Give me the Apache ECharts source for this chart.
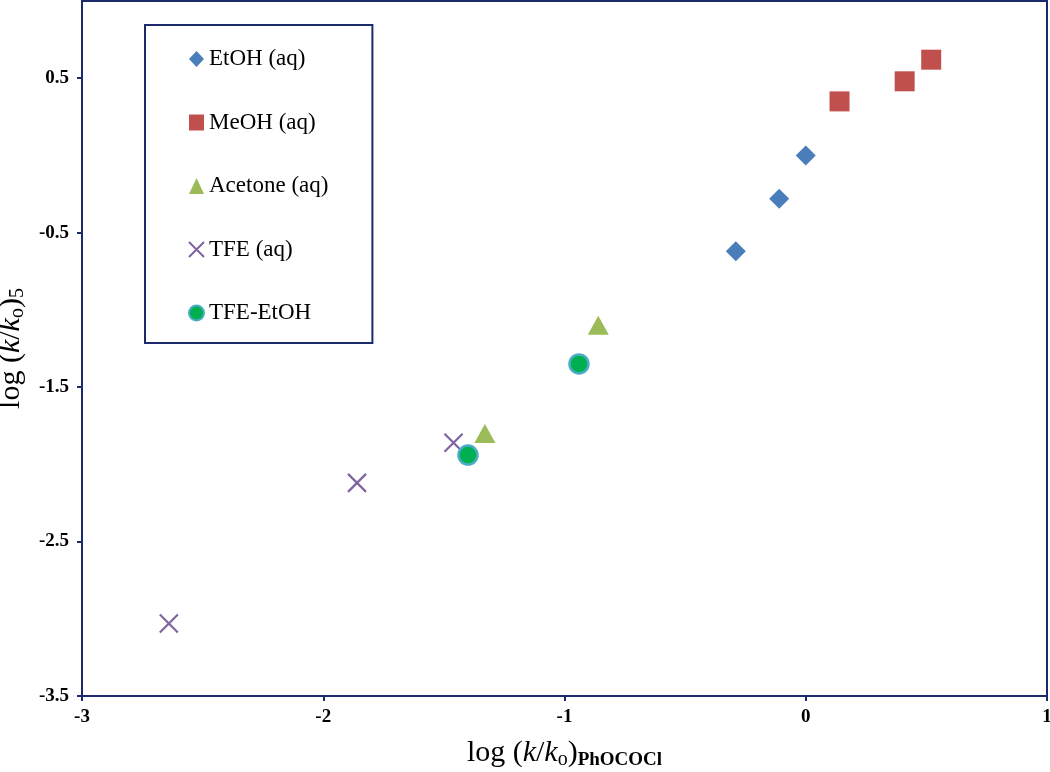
<!DOCTYPE html>
<html>
<head>
<meta charset="utf-8">
<script src="https://cdn.jsdelivr.net/npm/echarts@6/dist/echarts.min.js"></script>
<style>html,body{margin:0;padding:0;background:#fff}#c{width:1050px;height:772px}</style>
</head>
<body>
<div id="c"></div>
<script>
// ---- data ----
const seriesNames = ['EtOH (aq)', 'MeOH (aq)', 'Acetone (aq)', 'TFE (aq)', 'TFE-EtOH'];
const etohX = [0.00, -0.11, -0.29];
const etohY = [0.00, -0.28, -0.62];
const meohX = [0.14, 0.41, 0.52];
const meohY = [0.35, 0.48, 0.62];
const acetoneX = [-0.86, -1.33];
const acetoneY = [-1.10, -1.80];
const tfeX = [-1.46, -1.86, -2.64];
const tfeY = [-1.86, -2.12, -3.03];
const tfeEtohX = [-0.94, -1.40];
const tfeEtohY = [-1.35, -1.94];
const xTicks = [-3, -2, -1, 0, 1];
const yTicks = [-3.5, -2.5, -1.5, -0.5, 0.5];

const pair = (xs, ys) => xs.map((x, i) => [x, ys[i]]);
const FONT = "'Liberation Serif', 'Times New Roman', serif";
const NAVY = '#1b2a6b';

const chart = echarts.init(document.getElementById('c'), null, {renderer: 'canvas'});
const titleRich = {
  n: {fontFamily: FONT, fontSize: 30, color: '#000', lineHeight: 34},
  i: {fontFamily: FONT, fontSize: 30, fontStyle: 'italic', color: '#000', lineHeight: 34},
  s: {fontFamily: FONT, fontSize: 20, color: '#000', lineHeight: 20, verticalAlign: 'bottom'},
  b: {fontFamily: FONT, fontSize: 19, fontWeight: 'bold', color: '#000', lineHeight: 20, verticalAlign: 'bottom'}
};
chart.setOption({
  animation: false,
  backgroundColor: '#fff',
  grid: {left: 82, right: 3, top: 1, bottom: 76, outerBoundsMode: 'none', containLabel: false,
         show: true, borderColor: NAVY, borderWidth: 2},
  legend: {
    orient: 'vertical', left: 145, top: 25,
    padding: [22, 44, 18, 43], itemGap: 39.5,
    itemWidth: 15, itemHeight: 16,
    borderColor: NAVY, borderWidth: 2,
    textStyle: {fontFamily: FONT, fontSize: 23, color: '#000', lineHeight: 24},
    data: seriesNames
  },
  xAxis: {
    type: 'value', min: xTicks[0], max: xTicks[xTicks.length - 1], interval: 1,
    splitLine: {show: false},
    axisLine: {onZero: false, lineStyle: {color: NAVY, width: 2}},
    axisTick: {show: true, length: 5, lineStyle: {color: NAVY, width: 2}},
    axisLabel: {fontFamily: FONT, fontSize: 19, fontWeight: 'bold', color: '#000', margin: 12},
    name: '{n|log (}{i|k}{n|/}{i|k}{s|o}{n|)}{b|PhOCOCl}',
    nameLocation: 'middle', nameGap: 40,
    nameTextStyle: {rich: titleRich}
  },
  yAxis: {
    type: 'value', min: -3.5, max: 1.0,
    splitLine: {show: false},
    axisLine: {onZero: false, lineStyle: {color: NAVY, width: 2}},
    axisTick: {show: true, length: 5, customValues: yTicks, lineStyle: {color: NAVY, width: 2}},
    axisLabel: {customValues: yTicks, fontFamily: FONT, fontSize: 19, fontWeight: 'bold', color: '#000', margin: 13},
    name: '{n|log (}{i|k}{n|/}{i|k}{s|o}{n|)}{s|5}',
    nameLocation: 'middle', nameGap: 39,
    nameTextStyle: {rich: titleRich}
  },
  series: [
    {name: seriesNames[0], type: 'scatter', symbol: 'diamond', symbolSize: 20,
     itemStyle: {color: '#4a7ebb', opacity: 1}, data: pair(etohX, etohY)},
    {name: seriesNames[1], type: 'scatter', symbol: 'rect', symbolSize: 20,
     itemStyle: {color: '#c0504d', opacity: 1}, data: pair(meohX, meohY)},
    {name: seriesNames[2], type: 'scatter', symbol: 'triangle', symbolSize: [21, 19],
     itemStyle: {color: '#9bbb59', opacity: 1}, data: pair(acetoneX, acetoneY)},
    {name: seriesNames[3], type: 'scatter', symbol: 'path://M0,0L10,10M10,0L0,10', symbolSize: 18,
     itemStyle: {color: 'rgba(0,0,0,0)', borderColor: '#8064a2', borderWidth: 2.2, opacity: 1}, data: pair(tfeX, tfeY)},
    {name: seriesNames[4], type: 'scatter', symbol: 'circle', symbolSize: 19,
     itemStyle: {color: '#00b050', borderColor: '#4bacc6', borderWidth: 2.5, opacity: 1}, data: pair(tfeEtohX, tfeEtohY)}
  ]
});
</script>
</body>
</html>
